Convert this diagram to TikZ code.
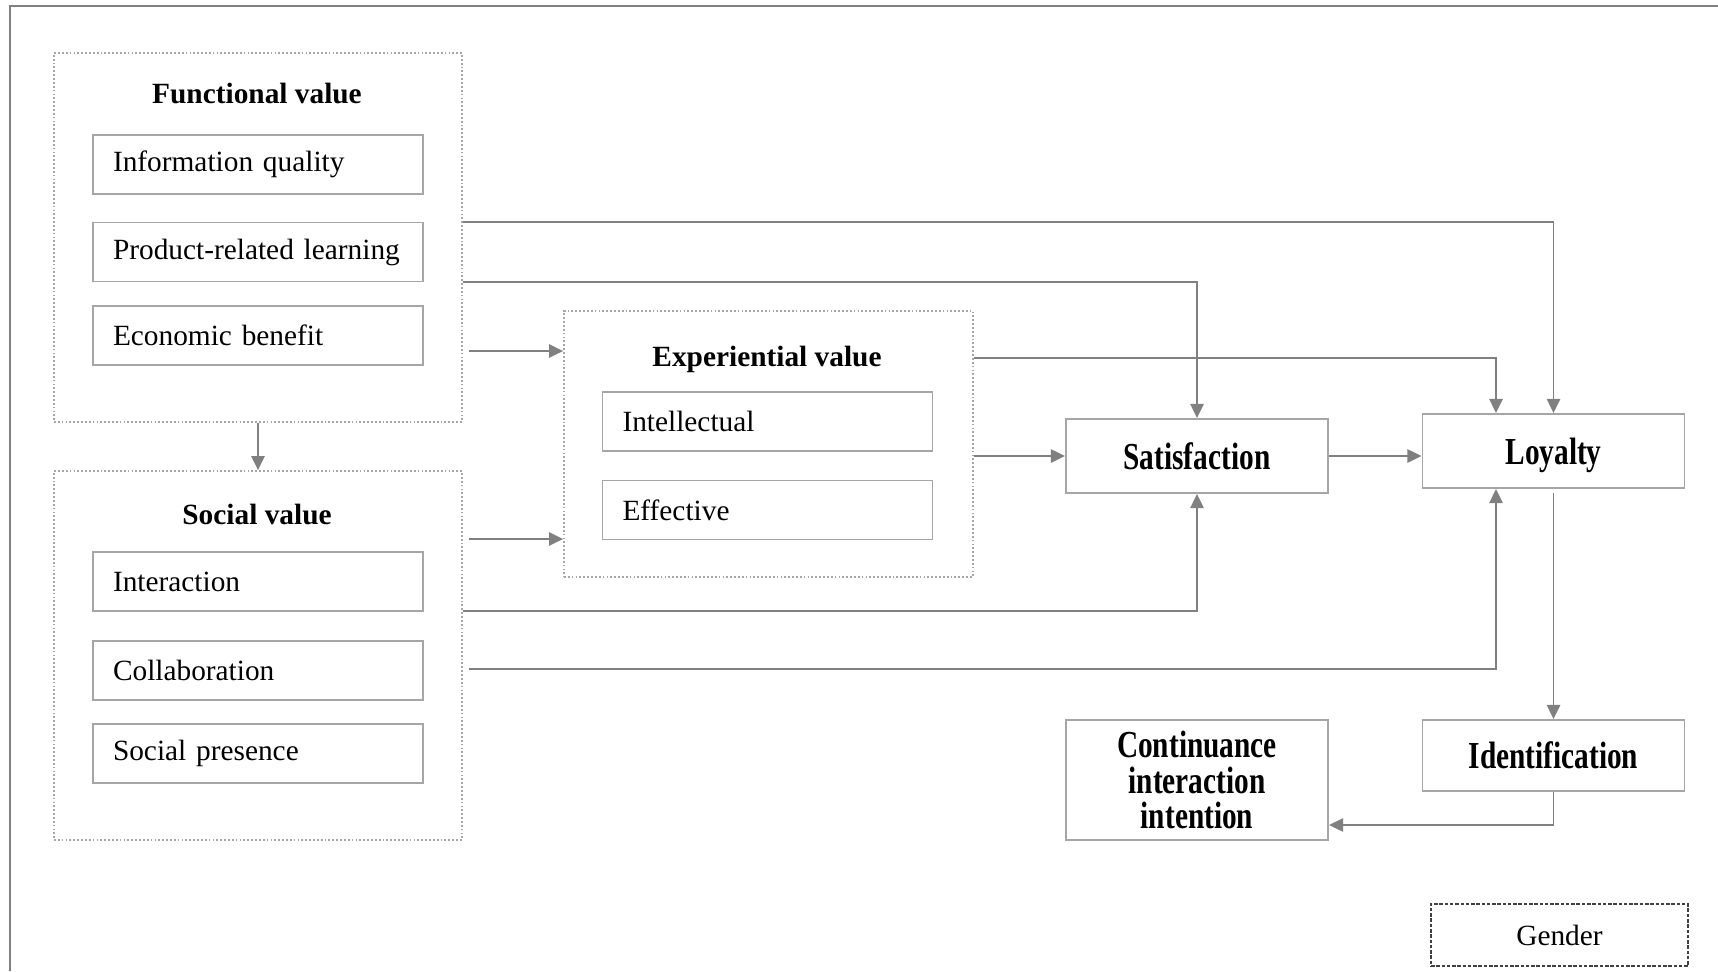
\documentclass[tikz,border=0pt]{standalone}
\usepackage{fontspec}
\setmainfont{Liberation Serif}
\usetikzlibrary{arrows.meta}
\definecolor{boxgray}{HTML}{A6A6A6}
\definecolor{linkgray}{HTML}{808080}
\newcommand{\tallbf}[1]{\scalebox{1}[1.3]{\bfseries #1}}

\begin{document}
\begin{tikzpicture}[
  font=\fontsize{16.7}{20}\selectfont,
  group/.style={draw=boxgray, line width=1pt, dash pattern=on 1pt off 1.2pt, minimum width=8.16cm, inner sep=0pt},
  item/.style={draw=boxgray, line width=1.1pt, minimum height=1.18cm, text width=5.8cm, inner xsep=0.4cm, align=left},
  construct/.style={draw=boxgray, line width=1.1pt, minimum width=5.24cm, minimum height=1.48cm, inner sep=0pt, align=center},
  title/.style={font=\fontsize{16.7}{20}\selectfont\bfseries},
  link/.style={draw=linkgray, line width=1.1pt, -{Triangle[length=8pt,width=7.5pt]}},
]
  \useasboundingbox (0,0) rectangle (34.36,-19.42);
  \draw[linkgray, line width=1.4pt] (0.2,-19.42) -- (0.2,-0.12) -- (34.36,-0.12);

  % value groups
  \node[group, minimum height=7.38cm] (func) at (5.16,-4.75) {};
  \node[group, minimum height=7.38cm] (social) at (5.16,-13.11) {};
  \node[group, minimum width=8.18cm, minimum height=5.32cm] (exper) at (15.37,-8.88) {};
  \node[title] (functitle) at (5.14,-1.86) {Functional value};
  \node[title] (socialtitle) at (5.14,-10.28) {Social value};
  \node[title] (expertitle) at (15.34,-7.18) {Experiential value};

  \foreach \name/\x/\y/\txt in {info/5.16/-3.29/Information quality,
      prod/5.16/-5.04/Product-related learning, econ/5.16/-6.71/Economic benefit,
      inter/5.16/-11.63/Interaction, collab/5.16/-13.41/Collaboration,
      pres/5.16/-15.07/Social presence, intel/15.35/-8.43/Intellectual,
      effect/15.35/-10.2/Effective}
    \node[item] (\name) at (\x,\y) {\txt};

  \node[construct] (sat) at (23.94,-9.12) {\tallbf{Satisfaction}};
  \node[construct, text depth=0pt] (loyal) at (31.07,-9.02) {\tallbf{Loyalty}};
  \node[construct, minimum height=1.42cm] (ident) at (31.07,-15.11) {\tallbf{Identification}};
  \node[construct, minimum height=2.4cm] (cont) at (23.94,-15.6)
    {\tallbf{Continuance}\\\tallbf{interaction}\\\tallbf{intention}};
  \node[draw=black!75, line width=0.8pt, dash pattern=on 2pt off 1pt,
    minimum width=5.14cm, minimum height=1.24cm] (gender) at (31.19,-18.7) {Gender};

  \draw[link] ([yshift=3.1mm]func.east) -| (loyal.north);
  \draw[link] ([yshift=-8.9mm]func.east) -| (sat.north);
  \draw[link, shorten <=1.2mm] ([yshift=-22.7mm]func.east) -- ([yshift=-22.7mm]func.east -| exper.west);
  \draw[link] (func.south) -- (social.north);
  \draw[link, shorten <=1.2mm] ([yshift=23.3mm]social.east) -- ([yshift=23.3mm]social.east -| exper.west);
  \draw[link] ([yshift=8.9mm]social.east) -| (sat.south);
  \draw[link, shorten <=1.2mm] ([yshift=-2.7mm]social.east) -| ([xshift=-11.5mm]loyal.south);
  \draw[link] ([yshift=17.2mm]exper.east) -| ([xshift=-11.5mm]loyal.north);
  \draw[link] ([yshift=-2.4mm]exper.east) -- (sat.west);
  \draw[link] (sat.east) -- (sat.east -| loyal.west);
  \draw[link, shorten <=0.8mm] (loyal.south) -- (ident.north);
  \draw[link] (ident.south) |- ([yshift=-9mm]cont.east);
\end{tikzpicture}
\end{document}
